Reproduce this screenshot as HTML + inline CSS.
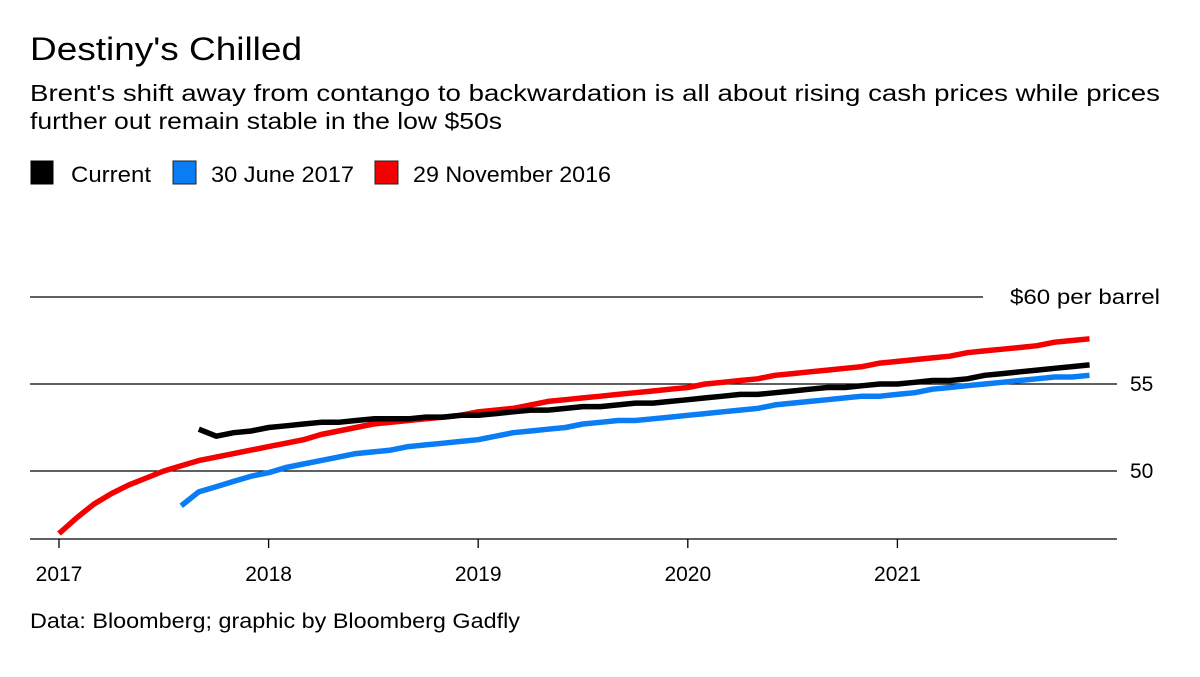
<!DOCTYPE html>
<html><head><meta charset="utf-8"><style>
html,body{margin:0;padding:0;background:#fff;}
svg{display:block;font-family:"Liberation Sans",Arial,sans-serif;}
</style></head><body>
<svg id="chart" width="1200" height="677" viewBox="0 0 1200 677" xmlns="http://www.w3.org/2000/svg">
<text x="30" y="60" font-size="32" textLength="272" lengthAdjust="spacingAndGlyphs">Destiny's Chilled</text>
<text x="30" y="101" font-size="23" textLength="1130" lengthAdjust="spacingAndGlyphs">Brent's shift away from contango to backwardation is all about rising cash prices while prices</text>
<text x="30" y="129" font-size="23" textLength="472" lengthAdjust="spacingAndGlyphs">further out remain stable in the low $50s</text>
<g>
<rect x="31" y="161" width="22" height="23" fill="#000" stroke="#000"/>
<text x="71" y="182" font-size="22" textLength="80" lengthAdjust="spacingAndGlyphs">Current</text>
<rect x="173" y="161" width="23" height="23" fill="#0a7df5" stroke="#222" stroke-width="1"/>
<text x="211" y="182" font-size="22" textLength="143" lengthAdjust="spacingAndGlyphs">30 June 2017</text>
<rect x="375" y="161" width="23" height="23" fill="#f50000" stroke="#222" stroke-width="1"/>
<text x="413" y="182" font-size="22" textLength="198" lengthAdjust="spacingAndGlyphs">29 November 2016</text>
</g>
<text x="30" y="628" font-size="21" textLength="490" lengthAdjust="spacingAndGlyphs">Data: Bloomberg; graphic by Bloomberg Gadfly</text>
<g id="plot"></g>
</svg>
<script>
const yTicks = [50, 55, 60];
const yTickLabels = ["50", "55", "$60 per barrel"];
const xTicks = [2017, 2018, 2019, 2020, 2021];
const xTickLabels = ["2017", "2018", "2019", "2020", "2021"];
const redStart = 2017.0;
const redValues = [46.4,47.3,48.1,48.7,49.2,49.6,50.0,50.3,50.6,50.8,51.0,51.2,
51.4,51.6,51.8,52.1,52.3,52.5,52.7,52.8,52.9,53.0,53.1,53.2,
53.4,53.5,53.6,53.8,54.0,54.1,54.2,54.3,54.4,54.5,54.6,54.7,
54.8,55.0,55.1,55.2,55.3,55.5,55.6,55.7,55.8,55.9,56.0,56.2,
56.3,56.4,56.5,56.6,56.8,56.9,57.0,57.1,57.2,57.4,57.5,57.6];
const blackStart = 2017.667;
const blackValues = [52.4,52.0,52.2,52.3,
52.5,52.6,52.7,52.8,52.8,52.9,53.0,53.0,53.0,53.1,53.1,53.2,
53.2,53.3,53.4,53.5,53.5,53.6,53.7,53.7,53.8,53.9,53.9,54.0,
54.1,54.2,54.3,54.4,54.4,54.5,54.6,54.7,54.8,54.8,54.9,55.0,
55.0,55.1,55.2,55.2,55.3,55.5,55.6,55.7,55.8,55.9,56.0,56.1];
const blueStart = 2017.583;
const blueValues = [48.0,48.8,49.1,49.4,49.7,
49.9,50.2,50.4,50.6,50.8,51.0,51.1,51.2,51.4,51.5,51.6,51.7,
51.8,52.0,52.2,52.3,52.4,52.5,52.7,52.8,52.9,52.9,53.0,53.1,
53.2,53.3,53.4,53.5,53.6,53.8,53.9,54.0,54.1,54.2,54.3,54.3,
54.4,54.5,54.7,54.8,54.9,55.0,55.1,55.2,55.3,55.4,55.4,55.5];

const NS = "http://www.w3.org/2000/svg";
const plot = document.getElementById("plot");
function xs(t){ return 59 + (t - 2017) * 209.6; }
function ys(v){ return 471 - (v - 50) * 17.4; }
function mk(tag, attrs){ const e = document.createElementNS(NS, tag); for (const k in attrs) e.setAttribute(k, attrs[k]); plot.appendChild(e); return e; }

yTicks.forEach((v, i) => {
  const x2 = v === 60 ? 983 : 1117;
  const l = mk("line", {x1: 30, x2: x2, y1: ys(v), y2: ys(v), stroke: "#000", "stroke-width": 1.3});
  
  
  const attrs = {x: v === 60 ? 1010 : 1130, y: ys(v) + 7, "font-size": 21};
  if (v === 60) { attrs.textLength = 150; attrs.lengthAdjust = "spacingAndGlyphs"; }
  const t = mk("text", attrs);
  t.textContent = yTickLabels[i];
  
  
});
const ax = mk("line", {x1: 30, x2: 1117, y1: 539, y2: 539, stroke: "#000", "stroke-width": 1.3});


xTicks.forEach((t, i) => {
  const tk = mk("line", {x1: xs(t), x2: xs(t), y1: 539, y2: 548, stroke: "#000", "stroke-width": 1.3});
  
  
  const lb = mk("text", {x: xs(t), y: 581, "font-size": 21, "text-anchor": "middle"});
  lb.textContent = xTickLabels[i];
  
  
});
function series(start, vals, color, name){
  const pts = vals.map((v, i) => xs(start + i / 12).toFixed(1) + "," + ys(v).toFixed(1)).join(" ");
  const p = mk("polyline", {points: pts, fill: "none", stroke: color, "stroke-width": 5.5, "stroke-linejoin": "round"});
  
  
}
series(redStart, redValues, "#f50000", "line-29-november-2016");
series(blueStart, blueValues, "#0a7df5", "line-30-june-2017");
series(blackStart, blackValues, "#000", "line-current");
</script>
</body></html>
